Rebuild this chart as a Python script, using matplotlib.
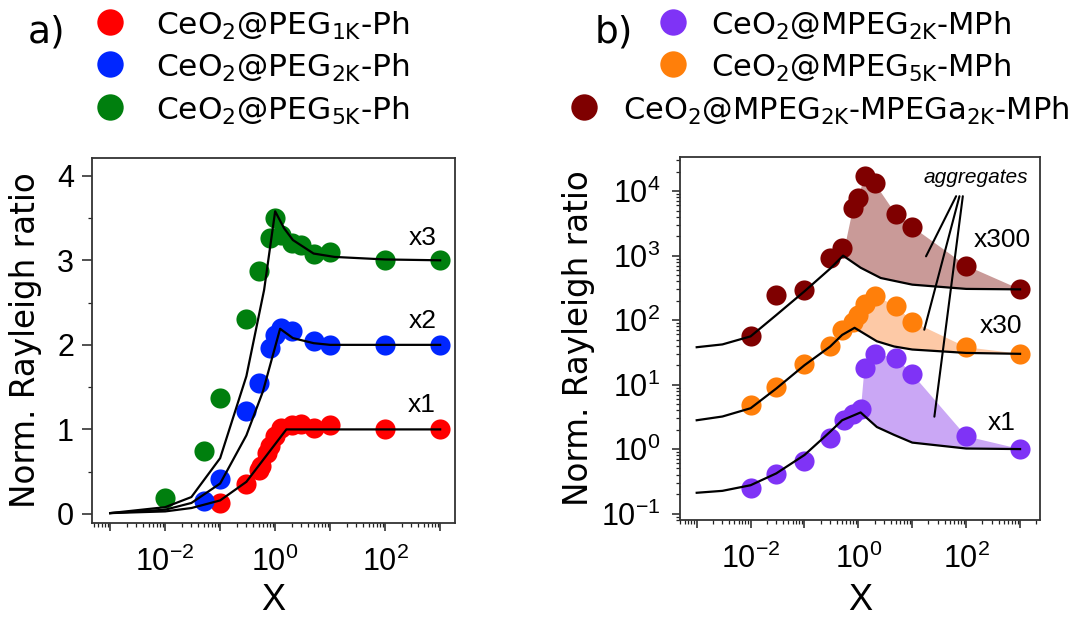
import numpy as np
import matplotlib
matplotlib.use('Agg')
import matplotlib.pyplot as plt
from matplotlib.lines import Line2D
from matplotlib.ticker import LogLocator, NullFormatter, FuncFormatter, MultipleLocator

plt.rcParams['mathtext.default'] = 'regular'
plt.rcParams['font.family'] = ['DejaVu Sans']

# ---------------- Panel a data ----------------
a_red_x = [0.1, 0.3, 0.5, 0.55, 0.7, 0.8, 1.0, 1.3, 2, 3, 5, 10, 100, 1000]
a_red_y = [0.13, 0.36, 0.52, 0.57, 0.72, 0.80, 0.92, 1.02, 1.05, 1.06, 1.02, 1.05, 1.0, 1.0]
a_blue_x = [0.05, 0.1, 0.3, 0.5, 0.8, 1.0, 1.3, 2, 5, 10, 100, 1000]
a_blue_y = [0.15, 0.41, 1.22, 1.55, 1.96, 2.12, 2.20, 2.16, 2.04, 2.0, 2.0, 2.0]
a_green_x = [0.01, 0.05, 0.1, 0.3, 0.5, 0.8, 1.0, 1.3, 2, 3, 5, 10, 100, 1000]
a_green_y = [0.19, 0.74, 1.37, 2.30, 2.87, 3.26, 3.50, 3.30, 3.20, 3.18, 3.07, 3.10, 3.0, 3.0]

a_fit_red_x = [0.001, 0.01, 0.03, 0.1, 0.3, 1.6, 10, 100, 1000]
a_fit_red_y = [0.01, 0.03, 0.07, 0.16, 0.38, 1.0, 1.0, 1.0, 1.0]
a_fit_blue_x = [0.001, 0.01, 0.03, 0.1, 0.3, 0.6, 1.23, 2.1, 5, 10, 100, 1000]
a_fit_blue_y = [0.01, 0.05, 0.13, 0.36, 0.93, 1.45, 2.19, 2.08, 2.02, 2.0, 2.0, 2.0]
a_fit_green_x = [0.001, 0.01, 0.03, 0.1, 0.3, 0.63, 1.0, 1.45, 2.1, 5, 12, 100, 1000]
a_fit_green_y = [0.01, 0.08, 0.20, 0.66, 1.63, 2.65, 3.58, 3.38, 3.24, 3.08, 3.04, 3.01, 3.0]

a_labels = ['CeO$_\\mathregular{2}$@PEG$_\\mathregular{1K}$-Ph',
            'CeO$_\\mathregular{2}$@PEG$_\\mathregular{2K}$-Ph',
            'CeO$_\\mathregular{2}$@PEG$_\\mathregular{5K}$-Ph']
a_colors = ['#ff0000', '#0026ff', '#007f0e']
a_mult_text = ['x1', 'x2', 'x3']
a_mult_x = [470, 476, 476]
a_mult_y = [1.29, 2.28, 3.26]

# ---------------- Panel b data ----------------
b_pur_x = [0.01, 0.03, 0.1, 0.3, 0.55, 0.8, 1.1, 1.3, 2, 5, 10, 100, 1000]
b_pur_y = [0.25, 0.41, 0.66, 1.47, 2.8, 3.5, 4.2, 18, 30, 26, 14.6, 1.58, 1.0]
b_ora_x = [0.01, 0.03, 0.1, 0.3, 0.5, 0.8, 1.0, 1.3, 2, 5, 10, 100, 1000]
b_ora_y = [4.8, 9.3, 20.7, 40, 71, 95, 120, 175, 240, 165, 95, 38, 30]
b_red_x = [0.01, 0.03, 0.1, 0.3, 0.5, 0.8, 1.0, 1.3, 2, 5, 10, 100, 1000]
b_red_y = [56, 245, 295, 910, 1300, 5500, 7900, 17000, 13400, 4350, 2800, 700, 300]

b_fit_pur_x = [0.001, 0.003, 0.01, 0.03, 0.1, 0.3, 0.5, 1.1, 2.2, 4.6, 10, 100, 1000]
b_fit_pur_y = [0.21, 0.225, 0.275, 0.42, 0.81, 1.86, 2.8, 3.7, 2.2, 1.66, 1.26, 1.02, 1.0]
b_fit_ora_x = [0.001, 0.003, 0.01, 0.03, 0.1, 0.3, 0.5, 0.85, 2.2, 4.6, 10, 100, 1000]
b_fit_ora_y = [2.8, 3.2, 4.3, 8.7, 20, 39, 59, 76, 47, 39, 35, 31, 30]
b_fit_red_x = [0.001, 0.003, 0.01, 0.03, 0.1, 0.3, 0.52, 1.1, 2.6, 10, 100, 1000]
b_fit_red_y = [38, 42, 56, 120, 280, 630, 1000, 650, 450, 355, 305, 300]

b_labels = ['CeO$_\\mathregular{2}$@MPEG$_\\mathregular{2K}$-MPh',
            'CeO$_\\mathregular{2}$@MPEG$_\\mathregular{5K}$-MPh',
            'CeO$_\\mathregular{2}$@MPEG$_\\mathregular{2K}$-MPEGa$_\\mathregular{2K}$-MPh']
b_colors = ['#7f33f6', '#ff7f0a', '#7f0000']
b_fill_colors = ['#caa7f5', '#fdc9a6', '#c99a98']
b_mult_text = ['x1', 'x30', 'x300']
b_mult_x = [462, 450, 462]
b_mult_y = [2.5, 80, 1774]

agg_text_xy = (153, 16300)
agg_line_start = [(65.1, 8360), (75.1, 8360), (86.7, 8360)]
agg_line_end = [(18.0, 976), (16.7, 71), (25.7, 3.18)]

# ---------------- Figure ----------------
W, H = 1089, 619
fig = plt.figure(figsize=(W / 100, H / 100), dpi=100)


def box(l, t, r, b):
    return [l / W, 1 - b / H, (r - l) / W, (b - t) / H]


axA = fig.add_axes(box(92, 158, 455, 523))
axB = fig.add_axes(box(680, 157, 1040, 520))

TICKFONT = 'Liberation Sans'
MS = 14.5


def xfmt(v, pos):
    e = int(round(np.log10(v)))
    if e in (-2, 0, 2):
        return '$\\mathdefault{10^{%d}}$' % e
    return ''


def yfmt(v, pos):
    e = int(round(np.log10(v)))
    return '$\\mathdefault{10^{%d}}$' % e


for ax in (axA, axB):
    ax.set_xscale('log')
    ax.xaxis.set_major_locator(LogLocator(base=10, numticks=30))
    ax.xaxis.set_minor_locator(LogLocator(base=10, subs=np.arange(2, 10), numticks=30))
    ax.xaxis.set_major_formatter(FuncFormatter(xfmt))
    ax.xaxis.set_minor_formatter(NullFormatter())
    ax.tick_params(which='major', direction='out', length=6, width=1.1, color='#222222')
    ax.tick_params(which='minor', direction='out', length=3, width=0.9, color='#222222')
    ax.tick_params(axis='x', which='major', pad=11)
    for sp in ax.spines.values():
        sp.set_linewidth(1.3)
        sp.set_color('#333333')

# Panel a
axA.set_xlim(10 ** -3.33, 10 ** 3.27)
axA.set_ylim(-0.107, 4.21)
axA.yaxis.set_major_locator(MultipleLocator(1))
axA.yaxis.set_minor_locator(MultipleLocator(0.5))
axA.tick_params(axis='y', which='major', length=7, pad=6)
for (x, y, c) in [(a_red_x, a_red_y, a_colors[0]),
                  (a_green_x, a_green_y, a_colors[2]),
                  (a_blue_x, a_blue_y, a_colors[1])]:
    axA.plot(x, y, 'o', ms=MS, color=c, mec='none', zorder=2)
for (x, y) in [(a_fit_red_x, a_fit_red_y), (a_fit_blue_x, a_fit_blue_y),
               (a_fit_green_x, a_fit_green_y)]:
    axA.plot(x, y, '-', color='black', lw=1.6, zorder=3)
for t, x, y in zip(a_mult_text, a_mult_x, a_mult_y):
    axA.text(x, y, t, fontsize=19, fontfamily=TICKFONT, ha='center', va='center', zorder=4)

# Panel b
axB.set_yscale('log')
axB.set_xlim(10 ** -3.31, 10 ** 3.37)
axB.set_ylim(10 ** -1.10, 10 ** 4.53)
axB.yaxis.set_major_locator(LogLocator(base=10, numticks=30))
axB.yaxis.set_minor_locator(LogLocator(base=10, subs=np.arange(2, 10), numticks=30))
axB.yaxis.set_major_formatter(FuncFormatter(yfmt))
axB.yaxis.set_minor_formatter(NullFormatter())
axB.tick_params(axis='y', which='major', length=6, pad=8)

series_b = [(b_pur_x, b_pur_y, b_fit_pur_x, b_fit_pur_y),
            (b_ora_x, b_ora_y, b_fit_ora_x, b_fit_ora_y),
            (b_red_x, b_red_y, b_fit_red_x, b_fit_red_y)]
for i, (px, py, fx, fy) in enumerate(series_b):
    fx = np.asarray(fx, float); fy = np.asarray(fy, float)
    px = np.asarray(px, float); py = np.asarray(py, float)
    k = int(np.argmax(fy))
    m = px > fx[k]
    polx = np.concatenate([[fx[k]], px[m], fx[k:][::-1]])
    poly = np.concatenate([[fy[k]], py[m], fy[k:][::-1]])
    axB.fill(polx, poly, color=b_fill_colors[i], lw=0, zorder=1)
for i, (px, py, fx, fy) in enumerate(series_b):
    axB.plot(px, py, 'o', ms=MS, color=b_colors[i], mec='none', zorder=2)
for i, (px, py, fx, fy) in enumerate(series_b):
    axB.plot(fx, fy, '-', color='black', lw=1.6, zorder=3)
for t, x, y in zip(b_mult_text, b_mult_x, b_mult_y):
    axB.text(x, y, t, fontsize=19, fontfamily=TICKFONT, ha='center', va='center', zorder=4)
axB.text(agg_text_xy[0], agg_text_xy[1], 'aggregates', fontsize=15, fontstyle='italic',
         fontfamily=TICKFONT, ha='center', va='center', zorder=4)
for s, e in zip(agg_line_start, agg_line_end):
    axB.annotate('', xy=e, xytext=s, xycoords='data',
                 arrowprops=dict(arrowstyle='-', color='black', lw=1.5,
                                 shrinkA=0, shrinkB=0), zorder=4)

for lab in axA.get_xticklabels() + axA.get_yticklabels() + axB.get_xticklabels() + axB.get_yticklabels():
    lab.set_fontfamily(TICKFONT)
    lab.set_fontsize(22)

# axis labels
for ax, ylx in ((axA, (25 - 92) / 363), (axB, (578 - 680) / 360)):
    ax.set_ylabel('Norm. Rayleigh ratio', fontsize=23.5)
    ax.yaxis.set_label_coords(ylx, 0.5)
    ax.yaxis.label.set_va('center')
    ax.set_xlabel('X', fontsize=26, fontfamily=TICKFONT)
    ax.xaxis.label.set_va('center')
axA.xaxis.set_label_coords(0.5, (523 - 600) / 365)
axB.xaxis.set_label_coords(0.5, (520 - 600) / 363)


# legends (figure coords in pixels)
def fx_(px):
    return px / W


def fy_(py):
    return 1 - py / H


LMS = 19
rows_y = [22, 64, 107]
fig.text(fx_(28), fy_(43), 'a)', fontsize=27, ha='left', va='baseline')
for i in range(3):
    fig.add_artist(Line2D([fx_(110)], [fy_(rows_y[i])], marker='o', ms=LMS,
                          color=a_colors[i], mec='none', ls='none',
                          transform=fig.transFigure))
    fig.text(fx_(156), fy_(rows_y[i] + 13), a_labels[i], fontsize=22.5,
             ha='left', va='baseline')

fig.text(fx_(595), fy_(43), 'b)', fontsize=27, ha='left', va='baseline')
b_mark_x = [673, 673, 584]
b_text_x = [711, 711, 623]
for i in range(3):
    fig.add_artist(Line2D([fx_(b_mark_x[i])], [fy_(rows_y[i])], marker='o', ms=LMS,
                          color=b_colors[i], mec='none', ls='none',
                          transform=fig.transFigure))
    fig.text(fx_(b_text_x[i]), fy_(rows_y[i] + 13), b_labels[i], fontsize=22,
             ha='left', va='baseline')

fig.savefig('out.png', dpi=100)
